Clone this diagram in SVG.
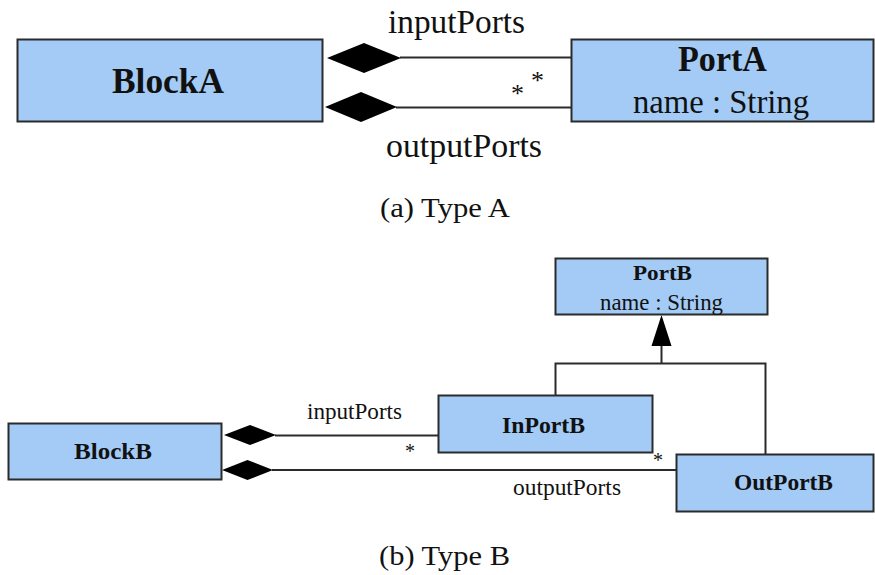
<svg xmlns="http://www.w3.org/2000/svg" width="875" height="575" viewBox="0 0 875 575">
<style>
.box{fill:#a3cbf6;stroke:#2b2b2b;stroke-width:2}
.ln{fill:none;stroke:#2b2b2b;stroke-width:2}
.dm{fill:#000;stroke:none}
text{fill:#111}
.b{font-weight:bold}
</style>
<rect width="875" height="575" fill="#fff"/>
<g font-family="Liberation Serif, Tinos, DejaVu Serif, Noto Serif, FreeSerif, Times, serif">
<g id="connectors">
<path class="ln" d="M400,57.5 H573"/>
<path class="ln" d="M396,107.5 H572"/>
<polygon class="dm" points="327,58 364,43 401,58 364,73"/>
<polygon class="dm" points="325,107 361,92 397,107 361,122"/>
<path class="ln" d="M275,435.5 H439"/>
<path class="ln" d="M272,470 H677"/>
<polygon class="dm" points="224,435 250,425 276,435 250,445"/>
<polygon class="dm" points="222,470 247.5,460 273,470 247.5,480"/>
<path class="ln" d="M555.5,396 V363.5 H765.5 V455"/>
<path class="ln" d="M661.5,363.5 V344"/>
<polygon class="dm" points="661.5,315 651.5,346 671.5,346"/>
<text x="388" y="33" font-size="33" textLength="137" lengthAdjust="spacingAndGlyphs">inputPorts</text>
<text x="386" y="157" font-size="33" textLength="156" lengthAdjust="spacingAndGlyphs">outputPorts</text>
<text x="511" y="102" font-size="26">*</text>
<text x="531" y="89" font-size="26">*</text>
<text x="307" y="419" font-size="23" textLength="95" lengthAdjust="spacingAndGlyphs">inputPorts</text>
<text x="513" y="495" font-size="23" textLength="108" lengthAdjust="spacingAndGlyphs">outputPorts</text>
<text x="405" y="458" font-size="20">*</text>
<text x="653" y="467" font-size="20">*</text>
</g>
<g id="BlockA">
<rect class="box" x="17.5" y="39.5" width="305" height="82"/>
<text class="b" x="112" y="93" font-size="36" textLength="112" lengthAdjust="spacingAndGlyphs">BlockA</text>
</g>
<g id="PortA">
<rect class="box" x="571.5" y="39.5" width="302" height="82"/>
<text class="b" x="678" y="71" font-size="36" textLength="89" lengthAdjust="spacingAndGlyphs">PortA</text>
<text x="633" y="113" font-size="33" textLength="176" lengthAdjust="spacingAndGlyphs">name : String</text>
</g>
<g id="PortB">
<rect class="box" x="555.5" y="258.5" width="212" height="56"/>
<text class="b" x="633" y="280" font-size="22" textLength="59" lengthAdjust="spacingAndGlyphs">PortB</text>
<text x="600" y="310" font-size="23" textLength="123" lengthAdjust="spacingAndGlyphs">name : String</text>
</g>
<g id="BlockB">
<rect class="box" x="8.5" y="423.5" width="213" height="56"/>
<text class="b" x="74" y="459" font-size="24" textLength="78" lengthAdjust="spacingAndGlyphs">BlockB</text>
</g>
<g id="InPortB">
<rect class="box" x="438.5" y="395.5" width="214" height="57"/>
<text class="b" x="502" y="433" font-size="24" textLength="83" lengthAdjust="spacingAndGlyphs">InPortB</text>
</g>
<g id="OutPortB">
<rect class="box" x="676.5" y="454.5" width="197" height="57"/>
<text class="b" x="734" y="490" font-size="24" textLength="99" lengthAdjust="spacingAndGlyphs">OutPortB</text>
</g>
<g id="captions">
<text x="380" y="217" font-size="27" textLength="130" lengthAdjust="spacingAndGlyphs">(a)  Type A</text>
<text x="379" y="565" font-size="27" textLength="131" lengthAdjust="spacingAndGlyphs">(b)  Type B</text>
</g>
</g>
</svg>
